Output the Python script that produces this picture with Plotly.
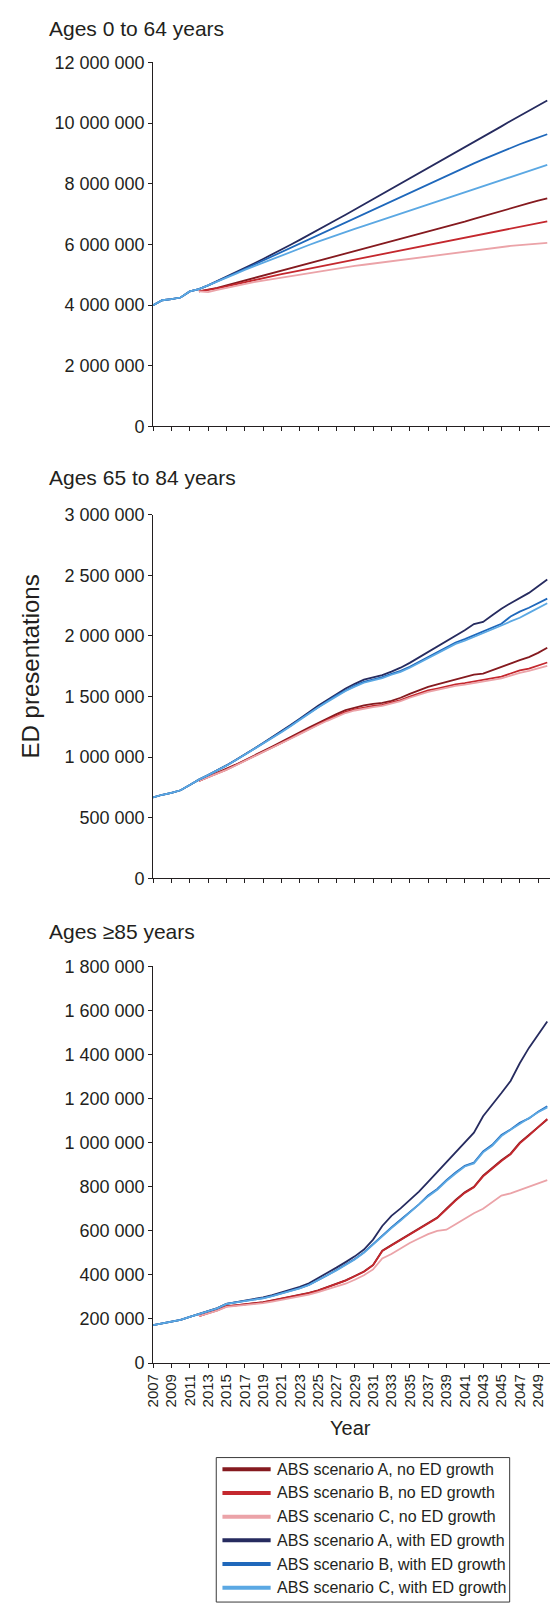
import plotly.graph_objects as go

# ---------------------------------------------------------------------------
# Data (values in millions of ED presentations)
# ---------------------------------------------------------------------------
years_all = list(range(2007, 2051))    # series with ED growth (incl. history)
years_proj = list(range(2012, 2051))   # series without ED growth

series_names = [
    "ABS scenario A, no ED growth",
    "ABS scenario B, no ED growth",
    "ABS scenario C, no ED growth",
    "ABS scenario A, with ED growth",
    "ABS scenario B, with ED growth",
    "ABS scenario C, with ED growth",
]
series_colors = ["#851a1f", "#c4282e", "#eba3a8", "#262b5f", "#1f68bb", "#5ba8e3"]

panel_titles = ["Ages 0 to 64 years", "Ages 65 to 84 years", "Ages \u226585 years"]

# ---- Ages 0 to 64 ----
top_a_no = [4.45, 4.50, 4.57, 4.65, 4.73, 4.81, 4.89, 4.97,
            5.05, 5.13, 5.21, 5.29, 5.37, 5.45, 5.53, 5.61, 5.69, 5.77,
            5.85, 5.93, 6.01, 6.09, 6.17, 6.25, 6.33, 6.41, 6.49, 6.57,
            6.66, 6.75, 6.84, 6.93, 7.02, 7.11, 7.20, 7.28, 7.36, 7.44, 7.52]
top_b_no = [4.45, 4.49, 4.55, 4.62, 4.69, 4.76, 4.83, 4.90,
            4.96, 5.02, 5.08, 5.14, 5.20, 5.26, 5.32, 5.38, 5.44, 5.50,
            5.56, 5.62, 5.68, 5.74, 5.80, 5.86, 5.92, 5.98, 6.04, 6.10,
            6.16, 6.22, 6.28, 6.34, 6.40, 6.46, 6.52, 6.58, 6.64, 6.70, 6.76]
top_c_no = [4.45, 4.43, 4.50, 4.57, 4.64, 4.70, 4.76, 4.81,
            4.86, 4.91, 4.96, 5.01, 5.06, 5.11, 5.16, 5.21, 5.25, 5.29,
            5.33, 5.37, 5.41, 5.45, 5.49, 5.53, 5.57, 5.61, 5.65, 5.69,
            5.73, 5.77, 5.81, 5.85, 5.89, 5.92, 5.95, 5.98, 6.01, 6.03, 6.05]
top_a_gr = [4.00, 4.16, 4.20,
            4.25, 4.45, 4.53, 4.65, 4.79, 4.93, 5.07, 5.22, 5.37, 5.52,
            5.67, 5.83, 5.99, 6.15, 6.31, 6.47, 6.64, 6.81, 6.98, 7.15,
            7.32, 7.49, 7.66, 7.83, 8.00, 8.17, 8.34, 8.51, 8.68, 8.85,
            9.02, 9.19, 9.36, 9.53, 9.71, 9.89, 10.07, 10.24, 10.41, 10.58, 10.74]
top_b_gr = [4.00, 4.16, 4.20,
            4.25, 4.45, 4.53, 4.65, 4.78, 4.92, 5.05, 5.19, 5.33, 5.47,
            5.61, 5.75, 5.89, 6.03, 6.17, 6.31, 6.45, 6.59, 6.73, 6.87,
            7.01, 7.15, 7.29, 7.43, 7.57, 7.71, 7.85, 7.99, 8.13, 8.27,
            8.41, 8.54, 8.67, 8.80, 8.93, 9.06, 9.18, 9.30, 9.41, 9.52, 9.63]
top_c_gr = [4.00, 4.16, 4.20,
            4.25, 4.45, 4.53, 4.65, 4.77, 4.90, 5.03, 5.16, 5.28, 5.40,
            5.52, 5.64, 5.76, 5.87, 5.98, 6.09, 6.20, 6.31, 6.41, 6.51,
            6.61, 6.71, 6.81, 6.91, 7.01, 7.11, 7.21, 7.31, 7.41, 7.51,
            7.61, 7.71, 7.81, 7.91, 8.01, 8.11, 8.21, 8.31, 8.41, 8.52, 8.62]

# ---- Ages 65 to 84 ----
mid_a_no = [0.805, 0.838, 0.868, 0.900, 0.938, 0.975, 1.010, 1.050,
            1.088, 1.125, 1.165, 1.205, 1.245, 1.283, 1.320, 1.355, 1.388, 1.410,
            1.428, 1.440, 1.447, 1.465, 1.490, 1.522, 1.553, 1.580, 1.600, 1.620,
            1.640, 1.660, 1.680, 1.690, 1.718, 1.750, 1.775, 1.800, 1.825, 1.860, 1.903]
mid_b_no = [0.805, 0.836, 0.865, 0.897, 0.934, 0.970, 1.005, 1.044,
            1.082, 1.118, 1.157, 1.196, 1.235, 1.272, 1.308, 1.342, 1.373, 1.394,
            1.410, 1.422, 1.432, 1.448, 1.470, 1.500, 1.525, 1.550, 1.566, 1.585,
            1.600, 1.610, 1.624, 1.640, 1.650, 1.665, 1.690, 1.715, 1.730, 1.755, 1.781]
mid_c_no = [0.805, 0.835, 0.863, 0.895, 0.931, 0.967, 1.002, 1.040,
            1.078, 1.114, 1.152, 1.190, 1.229, 1.265, 1.300, 1.334, 1.364, 1.385,
            1.401, 1.413, 1.423, 1.440, 1.462, 1.490, 1.515, 1.538, 1.555, 1.573,
            1.588, 1.598, 1.610, 1.625, 1.636, 1.650, 1.672, 1.696, 1.712, 1.735, 1.754]
mid_a_gr = [0.668, 0.690, 0.705,
            0.727, 0.770, 0.815, 0.852, 0.890, 0.932, 0.976, 1.021, 1.066, 1.116,
            1.166, 1.212, 1.265, 1.318, 1.372, 1.425, 1.472, 1.522, 1.567, 1.605,
            1.640, 1.658, 1.676, 1.706, 1.738, 1.778, 1.822, 1.870, 1.912, 1.952,
            1.996, 2.046, 2.098, 2.115, 2.170, 2.225, 2.270, 2.310, 2.355, 2.410, 2.465]
mid_b_gr = [0.668, 0.690, 0.705,
            0.727, 0.770, 0.815, 0.852, 0.890, 0.931, 0.975, 1.020, 1.065, 1.114,
            1.163, 1.208, 1.260, 1.312, 1.364, 1.415, 1.462, 1.510, 1.553, 1.590,
            1.622, 1.642, 1.660, 1.688, 1.712, 1.746, 1.786, 1.830, 1.866, 1.906,
            1.946, 1.974, 2.006, 2.040, 2.074, 2.100, 2.160, 2.200, 2.232, 2.268, 2.308]
mid_c_gr = [0.668, 0.690, 0.705,
            0.727, 0.770, 0.815, 0.852, 0.889, 0.930, 0.974, 1.019, 1.064, 1.112,
            1.161, 1.205, 1.256, 1.308, 1.359, 1.410, 1.456, 1.503, 1.546, 1.582,
            1.614, 1.634, 1.652, 1.680, 1.704, 1.738, 1.778, 1.820, 1.856, 1.895,
            1.934, 1.960, 1.990, 2.024, 2.056, 2.086, 2.120, 2.150, 2.190, 2.230, 2.270]

# ---- Ages 85 and over ----
bot_a_no = [0.213, 0.228, 0.240, 0.258, 0.262, 0.266, 0.272, 0.276,
            0.284, 0.292, 0.300, 0.308, 0.318, 0.330, 0.345, 0.360, 0.375, 0.395,
            0.415, 0.445, 0.510, 0.535, 0.560, 0.585, 0.610, 0.635, 0.660, 0.700,
            0.740, 0.775, 0.800, 0.850, 0.885, 0.920, 0.950, 1.000, 1.035, 1.070, 1.105]
bot_b_no = [0.213, 0.227, 0.239, 0.257, 0.261, 0.265, 0.271, 0.275,
            0.283, 0.291, 0.299, 0.307, 0.317, 0.329, 0.344, 0.359, 0.374, 0.394,
            0.414, 0.444, 0.508, 0.533, 0.558, 0.583, 0.608, 0.633, 0.658, 0.697,
            0.737, 0.772, 0.797, 0.847, 0.882, 0.917, 0.947, 0.997, 1.032, 1.068, 1.108]
bot_c_no = [0.213, 0.226, 0.238, 0.255, 0.259, 0.263, 0.268, 0.272,
            0.279, 0.286, 0.293, 0.300, 0.310, 0.322, 0.335, 0.348, 0.360, 0.378,
            0.398, 0.425, 0.475, 0.495, 0.520, 0.545, 0.565, 0.585, 0.600, 0.605,
            0.630, 0.655, 0.680, 0.700, 0.730, 0.760, 0.770, 0.785, 0.800, 0.815, 0.830]
bot_a_gr = [0.172, 0.180, 0.188,
            0.196, 0.210, 0.222, 0.236, 0.249, 0.269, 0.276, 0.282, 0.290, 0.298,
            0.308, 0.320, 0.333, 0.346, 0.362, 0.385, 0.408, 0.433, 0.458, 0.484,
            0.515, 0.560, 0.622, 0.668, 0.702, 0.738, 0.778, 0.822, 0.866, 0.910,
            0.955, 1.000, 1.045, 1.120, 1.170, 1.225, 1.280, 1.360, 1.430, 1.490, 1.550]
bot_b_gr = [0.172, 0.180, 0.188,
            0.196, 0.210, 0.222, 0.235, 0.248, 0.268, 0.275, 0.280, 0.288, 0.295,
            0.305, 0.316, 0.328, 0.340, 0.355, 0.376, 0.398, 0.422, 0.447, 0.472,
            0.502, 0.540, 0.580, 0.615, 0.650, 0.685, 0.720, 0.760, 0.790, 0.830,
            0.865, 0.895, 0.910, 0.960, 0.990, 1.035, 1.060, 1.090, 1.110, 1.140, 1.165]
bot_c_gr = [0.172, 0.180, 0.188,
            0.196, 0.210, 0.222, 0.235, 0.248, 0.268, 0.274, 0.280, 0.287, 0.294,
            0.304, 0.315, 0.327, 0.339, 0.354, 0.375, 0.396, 0.420, 0.445, 0.470,
            0.500, 0.538, 0.576, 0.612, 0.646, 0.682, 0.718, 0.756, 0.786, 0.826,
            0.860, 0.892, 0.906, 0.956, 0.986, 1.030, 1.058, 1.085, 1.108, 1.138, 1.160]

panel_series = [
    [top_a_no, top_b_no, top_c_no, top_a_gr, top_b_gr, top_c_gr],
    [mid_a_no, mid_b_no, mid_c_no, mid_a_gr, mid_b_gr, mid_c_gr],
    [bot_a_no, bot_b_no, bot_c_no, bot_a_gr, bot_b_gr, bot_c_gr],
]

y_tick_vals = [
    list(range(0, 12_000_001, 2_000_000)),
    list(range(0, 3_000_001, 500_000)),
    list(range(0, 1_800_001, 200_000)),
]
x_tick_vals = list(range(2007, 2050, 2))

# ---------------------------------------------------------------------------
# Layout geometry (pixels)
# ---------------------------------------------------------------------------
W, H = 550, 1617
AXIS_X = 146.5
panel_px = [(53, 421.7), (511, 879.3), (968.3, 1370)]   # (top, bottom) of plot areas
title_px = [18.5, 473, 933]

FONT = "Liberation Sans, Arial, sans-serif"
INK = "#231f20"


def fx(x):
    return x / W


def fy(y):
    return 1 - y / H


fig = go.Figure()

for p, series in enumerate(panel_series):
    ax = "" if p == 0 else str(p + 1)
    for name, color, vals in zip(series_names, series_colors, series):
        xs = years_proj if "no ED" in name else years_all
        fig.add_trace(go.Scatter(
            x=xs[:len(vals)], y=[v * 1e6 for v in vals],
            mode="lines", name=name, showlegend=False,
            line=dict(color=color, width=1.8),
            xaxis="x" + ax, yaxis="y" + ax,
        ))

layout = dict(
    width=W, height=H, autosize=False,
    margin=dict(l=0, r=0, t=0, b=0),
    paper_bgcolor="white", plot_bgcolor="white",
    separators=". ",
    font=dict(family=FONT, color=INK),
    showlegend=False,
)

for p in range(3):
    ax = "" if p == 0 else str(p + 1)
    top, bot = panel_px[p]
    layout["xaxis" + ax] = dict(
        domain=[fx(AXIS_X), 1], range=[2007, 2050.3], anchor="y" + ax,
        tickmode="array", tickvals=x_tick_vals,
        ticktext=[str(v) for v in x_tick_vals],
        ticks="outside", ticklen=4, tickwidth=1, tickcolor=INK,
        showline=True, linecolor=INK, linewidth=1,
        showgrid=False, zeroline=False,
        showticklabels=(p == 2), tickangle=-90,
        tickfont=dict(size=15, color=INK, family=FONT),
    )
    layout["yaxis" + ax] = dict(
        domain=[fy(bot), fy(top)], range=[0, y_tick_vals[p][-1]], anchor="x" + ax,
        tickmode="array", tickvals=y_tick_vals[p], tickformat=",d",
        ticks="outside", ticklen=4, tickwidth=1, tickcolor=INK,
        showline=True, linecolor=INK, linewidth=1,
        showgrid=False, zeroline=False,
        tickfont=dict(size=18, color=INK, family=FONT),
    )

annotations = []
for p, t in enumerate(panel_titles):
    annotations.append(dict(
        text=t, x=fx(41), y=fy(title_px[p]), xref="paper", yref="paper",
        xanchor="left", yanchor="middle", showarrow=False,
        borderpad=0, borderwidth=0,
        font=dict(size=21, color=INK, family=FONT),
    ))

annotations.append(dict(
    text="ED presentations", x=fx(22), y=fy(665), xref="paper", yref="paper",
    xanchor="center", yanchor="middle", textangle=-90, showarrow=False,
    borderpad=0, borderwidth=0,
    font=dict(size=24, color=INK, family=FONT),
))
annotations.append(dict(
    text="Year", x=fx(347), y=fy(1436), xref="paper", yref="paper",
    xanchor="center", yanchor="middle", showarrow=False,
    borderpad=0, borderwidth=0,
    font=dict(size=20, color=INK, family=FONT),
))

# Legend box drawn with shapes and text
shapes = [dict(
    type="rect", xref="paper", yref="paper",
    x0=fx(210.7), x1=fx(509), y0=fy(1612), y1=fy(1465.7),
    line=dict(color="#3a3a3a", width=1), fillcolor="rgba(0,0,0,0)",
)]
for i, (name, color) in enumerate(zip(series_names, series_colors)):
    ry = 1477.5 + 24 * i
    shapes.append(dict(
        type="line", xref="paper", yref="paper",
        x0=fx(217), x1=fx(266), y0=fy(ry), y1=fy(ry),
        line=dict(color=color, width=4),
    ))
    annotations.append(dict(
        text=name, x=fx(272.5), y=fy(ry), xref="paper", yref="paper",
        xanchor="left", yanchor="middle", showarrow=False,
        borderpad=0, borderwidth=0,
        font=dict(size=16, color=INK, family=FONT),
    ))

layout["annotations"] = annotations
layout["shapes"] = shapes
fig.update_layout(**layout)

fig.write_html("out.html")
